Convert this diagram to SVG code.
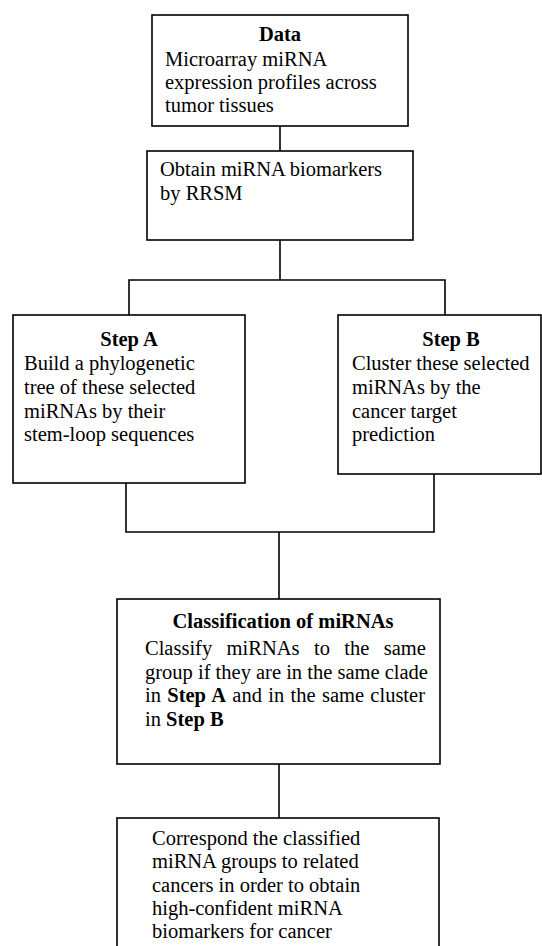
<svg xmlns="http://www.w3.org/2000/svg" width="542" height="946" viewBox="0 0 542 946">
<style>
.box{fill:#fff;stroke:#000;stroke-width:1.6}
.ln{fill:none;stroke:#000;stroke-width:1.6}
text{font-family:"Liberation Serif","Times New Roman",serif;font-size:20.5px;fill:#000}
.b{font-weight:bold}
.c{text-anchor:middle}
</style>
<rect width="542" height="946" fill="#fff"/>
<g id="connectors">
<path class="ln" d="M280 126V151"/>
<path class="ln" d="M280 240V280M129 315V280H445V315"/>
<path class="ln" d="M126 483V532H434V474M279 532V599"/>
<path class="ln" d="M279 764V818"/>
</g>
<g id="data">
<rect class="box" x="152" y="15" width="256" height="111"/>
<text class="b c" x="280" y="41">Data</text>
<text x="165" y="66">Microarray miRNA</text>
<text x="165" y="89">expression profiles across</text>
<text x="165" y="112">tumor tissues</text>
</g>
<g id="obtain">
<rect class="box" x="147" y="151" width="266" height="89"/>
<text x="160" y="176">Obtain miRNA biomarkers</text>
<text x="160" y="200">by RRSM</text>
</g>
<g id="stepA">
<rect class="box" x="13" y="315" width="232" height="168"/>
<text class="b c" x="129" y="346">Step A</text>
<text x="24" y="370">Build a phylogenetic</text>
<text x="24" y="394">tree of these selected</text>
<text x="24" y="418">miRNAs by their</text>
<text x="24" y="441">stem-loop sequences</text>
</g>
<g id="stepB">
<rect class="box" x="338" y="315" width="203" height="159"/>
<text class="b c" x="451" y="346">Step B</text>
<text x="352" y="370">Cluster these selected</text>
<text x="352" y="394">miRNAs by the</text>
<text x="352" y="418">cancer target</text>
<text x="352" y="441">prediction</text>
</g>
<g id="classification">
<rect class="box" x="117" y="599" width="323" height="165"/>
<text class="b c" x="283" y="628">Classification of miRNAs</text>
<text x="145" y="655" word-spacing="9.3">Classify miRNAs to the same</text>
<text x="145" y="679">group if they are in the same clade</text>
<text x="145" y="702" word-spacing="1.2">in <tspan class="b">Step A</tspan> and in the same cluster</text>
<text x="145" y="726">in <tspan class="b">Step B</tspan></text>
</g>
<g id="correspond">
<rect class="box" x="117" y="818" width="322" height="140"/>
<text x="152" y="845">Correspond the classified</text>
<text x="152" y="868">miRNA groups to related</text>
<text x="152" y="892">cancers in order to obtain</text>
<text x="152" y="915">high-confident miRNA</text>
<text x="152" y="938">biomarkers for cancer</text>
</g>
</svg>
